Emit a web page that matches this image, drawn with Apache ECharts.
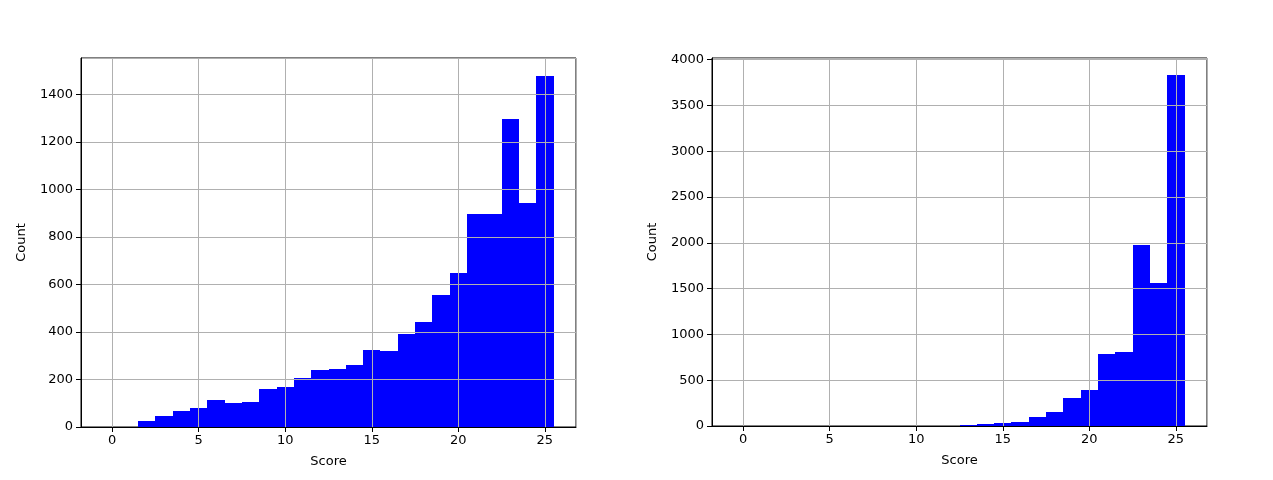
<!DOCTYPE html>
<html>
<head>
<meta charset="utf-8">
<script src="https://cdn.jsdelivr.net/npm/echarts@6/dist/echarts.min.js"></script>
<style>html,body{margin:0;padding:0;background:#fff;}#c{width:1273px;height:480px;}</style>
</head>
<body>
<div id="c"></div>
<script>
// Left histogram: integer scores and counts
var leftScores = [2,3,4,5,6,7,8,9,10,11,12,13,14,15,16,17,18,19,20,21,22,23,24,25];
var leftCounts = [27,48,69,81,115,102,106,161,170,207,241,245,262,325,321,392,443,556,649,897,897,1296,943,1479];
// Right histogram
var rightScores = [13,14,15,16,17,18,19,20,21,22,23,24,25];
var rightCounts = [11,22,33,44,98,156,305,392,784,806,1972,1558,3826];
// Axis settings
var xRange = [-1.8, 26.8];
var leftYMax = 1553, leftYStep = 200;
var rightYMax = 4017, rightYStep = 500;
var xName = 'Score', yName = 'Count';

function bins(scores, counts) {
  return scores.map(function (s, i) { return [s - 0.5, s + 0.5, counts[i]]; });
}
function renderItem(params, api) {
  var p0 = api.coord([api.value(0), api.value(2)]);
  var p1 = api.coord([api.value(1), 0]);
  var x0 = Math.round(p0[0]), x1 = Math.round(p1[0]);
  var y0 = Math.round(p0[1]), y1 = p1[1];
  return {
    type: 'rect',
    shape: { x: x0, y: y0, width: x1 - x0, height: y1 - y0 },
    style: { fill: '#0000ff' }
  };
}
var font = 'DejaVu Sans';
function plain(v) { return String(Math.round(v)); }
function xAxis(idx) {
  return {
    type: 'value', gridIndex: idx, min: xRange[0], max: xRange[1], z: 5,
    name: xName, nameLocation: 'middle', nameGap: 28,
    nameTextStyle: { color: '#000', fontFamily: font, fontSize: 13 },
    axisLine: { show: true, onZero: false, lineStyle: { color: '#000', width: 1 } },
    axisTick: { show: true, length: 5, lineStyle: { color: '#000', width: 1 } },
    axisLabel: { color: '#000', fontFamily: font, fontSize: 13, margin: 7, showMinLabel: false, showMaxLabel: false, formatter: plain },
    splitLine: { show: true, lineStyle: { color: '#b0b0b0', width: 1 } }
  };
}
function yAxis(idx, max, step) {
  return {
    type: 'value', gridIndex: idx, min: 0, max: max, interval: step, z: 5,
    name: yName, nameLocation: 'middle', nameGap: 53,
    nameTextStyle: { color: '#000', fontFamily: font, fontSize: 13 },
    axisLine: { show: true, onZero: false, lineStyle: { color: '#000', width: 1 } },
    axisTick: { show: true, length: 5, lineStyle: { color: '#000', width: 1 } },
    axisLabel: { color: '#000', fontFamily: font, fontSize: 13, margin: 8, showMaxLabel: false, formatter: plain },
    splitLine: { show: true, lineStyle: { color: '#b0b0b0', width: 1 } }
  };
}
var chart = echarts.init(document.getElementById('c'), null, { renderer: 'canvas' });
chart.setOption({
  backgroundColor: '#fff',
  animation: false,
  grid: [
    { left: 81, top: 58, width: 495, height: 369, show: true, borderColor: '#000', borderWidth: 1, backgroundColor: '#fff', containLabel: false, outerBoundsMode: 'none' },
    { left: 712, top: 58, width: 495, height: 368, show: true, borderColor: '#000', borderWidth: 1, backgroundColor: '#fff', containLabel: false, outerBoundsMode: 'none' }
  ],
  xAxis: [xAxis(0), xAxis(1)],
  yAxis: [yAxis(0, leftYMax, leftYStep), yAxis(1, rightYMax, rightYStep)],
  series: [
    { type: 'custom', xAxisIndex: 0, yAxisIndex: 0, renderItem: renderItem, data: bins(leftScores, leftCounts), z: 2 },
    { type: 'custom', xAxisIndex: 1, yAxisIndex: 1, renderItem: renderItem, data: bins(rightScores, rightCounts), z: 2 }
  ]
});
</script>
</body>
</html>
